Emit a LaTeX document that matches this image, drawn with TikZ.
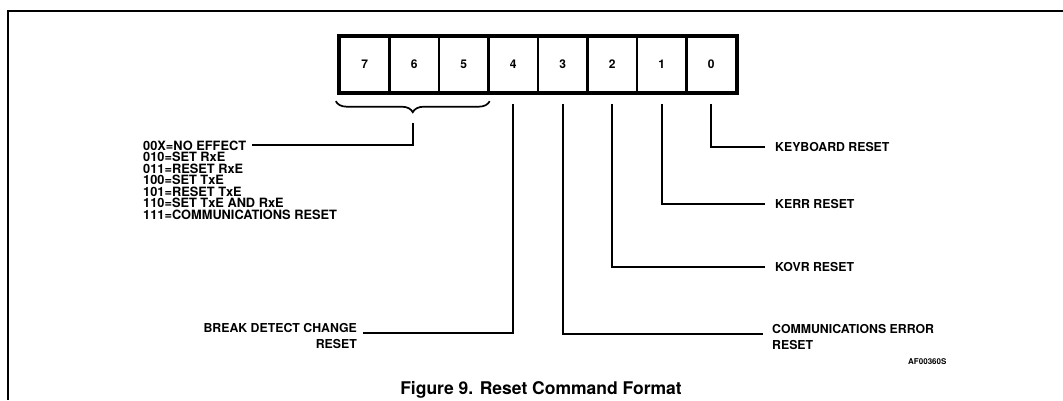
\documentclass[tikz,border=0pt]{standalone}
\usepackage{fontspec}
\setmainfont{TeX Gyre Heros}
\usetikzlibrary{decorations.pathreplacing,calc}
\begin{document}
\begin{tikzpicture}[x=1pt,y=-1pt,
  cell/.style={draw, line width=2.4pt, minimum width=49.5pt, minimum height=55pt, inner sep=0pt,
    font=\fontsize{12}{12}\selectfont\bfseries},
  lbl/.style={inner sep=0pt, font=\fontsize{12.3}{12}\selectfont\bfseries},
  lst/.style={inner sep=0pt, font=\fontsize{12.8}{12}\selectfont\bfseries},
  conn/.style={line width=1.8pt},
  frame/.style={line width=1.3pt}]
\useasboundingbox (0,0) rectangle (1063,400);
% frame
\draw[frame] (8,400) -- (8,11) -- (1063,11);
% register cells
\foreach \b [count=\i from 0] in {7,6,5,4,3,2,1,0}
  \node[cell] (c\b) at (364.75+49.5*\i, 64.5) {\b};
\draw[line width=3.2pt] (c7.north west) rectangle (c0.south east);
% brace over bits 7-5
\draw[conn, line width=1.7pt, decorate, decoration={brace, mirror, amplitude=11pt}]
  ($(c7.south west)+(-3,8)$) -- ($(c5.south east)+(0,8)$);
\coordinate (btip) at ($(c6.south)+(-1,30)$);
% list
\foreach \t [count=\k from 0] in {00X=NO EFFECT,010=SET RxE,011=RESET RxE,100=SET TxE,101=RESET TxE,110=SET TxE AND RxE,111=COMMUNICATIONS RESET}
  \node[lst, anchor=base west] (l\k) at (143, 150+11.5*\k) {\t};
\draw[conn] (btip) |- ([xshift=6pt]l0.east);
% vertical starts
\foreach \b in {4,3,2,1,0}
  \coordinate (v\b) at ($(c\b.south)+(0,11)$);
% right labels
\node[lbl, anchor=west] (r0) at (775,147) {KEYBOARD RESET};
\node[lbl, anchor=west] (r1) at (775,204) {KERR RESET};
\node[lbl, anchor=west] (r2) at (775,267) {KOVR RESET};
\draw[conn] (v0) |- ([xshift=-10pt]r0.west);
\draw[conn] (v1) |- ([xshift=-10pt]r1.west);
\draw[conn] (v2) |- ([xshift=-10pt]r2.west);
% bottom labels
\node[lbl, anchor=base east] (bd1) at (357,332) {BREAK DETECT CHANGE};
\node[lbl, anchor=base east] (bd2) at (357,348) {RESET};
\draw[conn] (v4) |- ([shift={(6,1)}]bd1.base east);
\node[lbl, anchor=base west] (ce1) at (772,333) {COMMUNICATIONS ERROR};
\node[lbl, anchor=base west] (ce2) at (772,349) {RESET};
\draw[conn] (v3) |- ([shift={(-9,1)}]ce1.base west);
% id and caption
\node[inner sep=0pt, font=\fontsize{8}{8}\selectfont\bfseries, anchor=base west] (af) at (908,364) {AF00360S};
\node[inner sep=0pt, font=\fontsize{17.5}{17.5}\selectfont\bfseries, anchor=base] (cap) at (541,394) {Figure 9. Reset Command Format};
\end{tikzpicture}
\end{document}
